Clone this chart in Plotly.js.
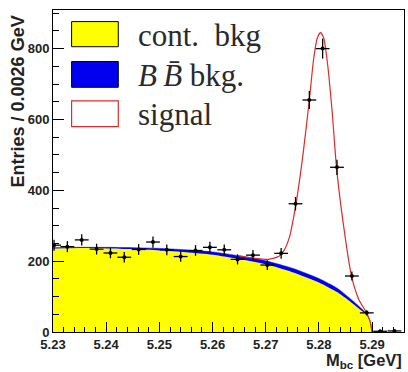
<!DOCTYPE html>
<html>
<head>
<meta charset="utf-8">
<script src="https://cdn.plot.ly/plotly-3.0.1.min.js"></script>
<style>html,body{margin:0;padding:0;background:#fff;}#chart{width:408px;height:372px;}</style>
</head>
<body>
<div id="chart"></div>
<script>
// Data points (bin centres, entries)
const binCenters = [5.2302, 5.2327, 5.2354, 5.2382, 5.2408, 5.2434, 5.2461, 5.2488, 5.2514, 5.2540, 5.2568, 5.2595, 5.2622, 5.2647, 5.2676, 5.2703, 5.2729, 5.2756, 5.2782, 5.2807, 5.2834, 5.2862, 5.2890, 5.2915, 5.2942];
const entries    = [245, 241, 260, 234, 223, 211, 233, 254, 232, 213, 230, 239, 232, 205, 217, 189, 222, 362, 655, 800, 465, 158, 54, 2, 3];

// Continuum background curve (yellow)
const contX = [5.230, 5.235, 5.240, 5.245, 5.250, 5.255, 5.260, 5.265, 5.270, 5.275, 5.280, 5.2835, 5.2855, 5.2875, 5.289, 5.2897, 5.2900];
const contY = [236, 237, 236, 234, 230, 225, 218, 206, 191, 169, 140, 112, 90, 66, 47, 27, 0];

// Continuum + BBbar background (top of blue band)
const bbX = [5.230, 5.235, 5.240, 5.245, 5.250, 5.255, 5.260, 5.265, 5.270, 5.275, 5.280, 5.2835, 5.2855, 5.2875, 5.289, 5.2897, 5.2900];
const bbY = [238, 239, 239, 238, 236, 232, 226, 215, 201, 180, 151, 123, 99, 73, 51, 28, 0];

// Total fit including signal (red)
const sigX = [5.265, 5.268, 5.2705, 5.2725, 5.2735, 5.2745, 5.2757, 5.2770, 5.2782, 5.2790, 5.2797, 5.2803, 5.2809, 5.2816, 5.2825, 5.2833, 5.2845, 5.2861, 5.2875, 5.2890, 5.2896, 5.2900];
const sigY = [215, 208, 205, 214, 232, 270, 363, 500, 655, 770, 830, 845, 830, 760, 620, 466, 315, 160, 92, 53, 30, 0];

const yTicks = [0, 200, 400, 600, 800];
const xTicks = [5.23, 5.24, 5.25, 5.26, 5.27, 5.28, 5.29];

const traces = [
  {x: contX, y: contY, type: 'scatter', mode: 'lines', fill: 'tozeroy',
   fillcolor: '#ffff00', line: {color: '#ffff00', width: 0, shape: 'spline', smoothing: 0.6}, hoverinfo: 'skip'},
  {x: bbX, y: bbY, type: 'scatter', mode: 'lines', fill: 'tonexty',
   fillcolor: '#0000ee', line: {color: '#0000dd', width: 0.5, shape: 'spline', smoothing: 0.6}, hoverinfo: 'skip'},
  {x: sigX, y: sigY, type: 'scatter', mode: 'lines',
   line: {color: '#e02a2a', width: 1.2, shape: 'spline', smoothing: 0.6}, hoverinfo: 'skip'},
  {x: binCenters, y: entries, type: 'scatter', mode: 'markers',
   marker: {color: '#000', size: 4},
   error_x: {type: 'constant', value: 0.0013, width: 0, color: '#000', thickness: 1.3},
   error_y: {type: 'sqrt', width: 0, color: '#000', thickness: 1.3}}
];

const legFont = {family: 'Liberation Serif, serif', size: 31, color: '#2a2a2a'};
const axFont = {family: 'Liberation Sans, Arial', size: 13, weight: 'bold', color: '#222'};
const layout = {
  width: 408, height: 372,
  margin: {l: 53, r: 4, t: 10, b: 40},
  paper_bgcolor: '#fff', plot_bgcolor: '#fff',
  showlegend: false,
  xaxis: {range: [5.23, 5.296], tickvals: xTicks, ticktext: xTicks.map(v => v.toFixed(2)),
    ticks: 'inside', ticklen: 10, tickcolor: '#000', showgrid: false, zeroline: false,
    showline: true, mirror: true, linecolor: '#000', linewidth: 1,
    tickfont: axFont,
    minor: {dtick: 0.002, ticks: 'inside', ticklen: 5, tickcolor: '#000', showgrid: false}},
  yaxis: {range: [0, 909], tickvals: yTicks, ticktext: yTicks.map(String),
    ticks: 'inside', ticklen: 11, tickcolor: '#000', showgrid: false, zeroline: false,
    showline: true, mirror: true, linecolor: '#000', linewidth: 1,
    tickfont: axFont,
    minor: {dtick: 50, ticks: 'inside', ticklen: 6, tickcolor: '#000', showgrid: false}},
  shapes: [
    {type: 'rect', xref: 'paper', yref: 'paper', x0: 0.053, x1: 0.186, y0: 0.886, y1: 0.964,
     fillcolor: '#ffff00', line: {color: '#000', width: 1}},
    {type: 'rect', xref: 'paper', yref: 'paper', x0: 0.053, x1: 0.186, y0: 0.760, y1: 0.840,
     fillcolor: '#0000ee', line: {color: '#000', width: 1}},
    {type: 'rect', xref: 'paper', yref: 'paper', x0: 0.053, x1: 0.186, y0: 0.638, y1: 0.718,
     fillcolor: '#ffffff', line: {color: '#e02a2a', width: 1.2}}
  ],
  annotations: [
    {xref: 'paper', yref: 'paper', x: 0.236, y: 0.922, xanchor: 'left', yanchor: 'middle',
     text: 'cont.  bkg', showarrow: false, font: legFont},
    {xref: 'paper', yref: 'paper', x: 0.236, y: 0.797, xanchor: 'left', yanchor: 'middle',
     text: '<i>B\u2009B\u0304</i> bkg.', showarrow: false, font: legFont},
    {xref: 'paper', yref: 'paper', x: 0.236, y: 0.675, xanchor: 'left', yanchor: 'middle',
     text: 'signal', showarrow: false, font: legFont},
    {xref: 'paper', yref: 'paper', x: -0.0997, y: 0.716, xanchor: 'center', yanchor: 'middle',
     textangle: -90, text: '<b>Entries / 0.0026 GeV</b>', showarrow: false,
     font: {family: 'Liberation Sans, Arial', size: 18, color: '#222'}},
    {xref: 'paper', yref: 'paper', x: 1.0, y: -0.053, xanchor: 'right', yanchor: 'top',
     text: '<b>M<sub>bc</sub> [GeV]</b>', showarrow: false,
     font: {family: 'Liberation Sans, Arial', size: 16.5, color: '#222'}}
  ]
};

Plotly.newPlot('chart', traces, layout, {displayModeBar: false, staticPlot: true});
</script>
</body>
</html>
